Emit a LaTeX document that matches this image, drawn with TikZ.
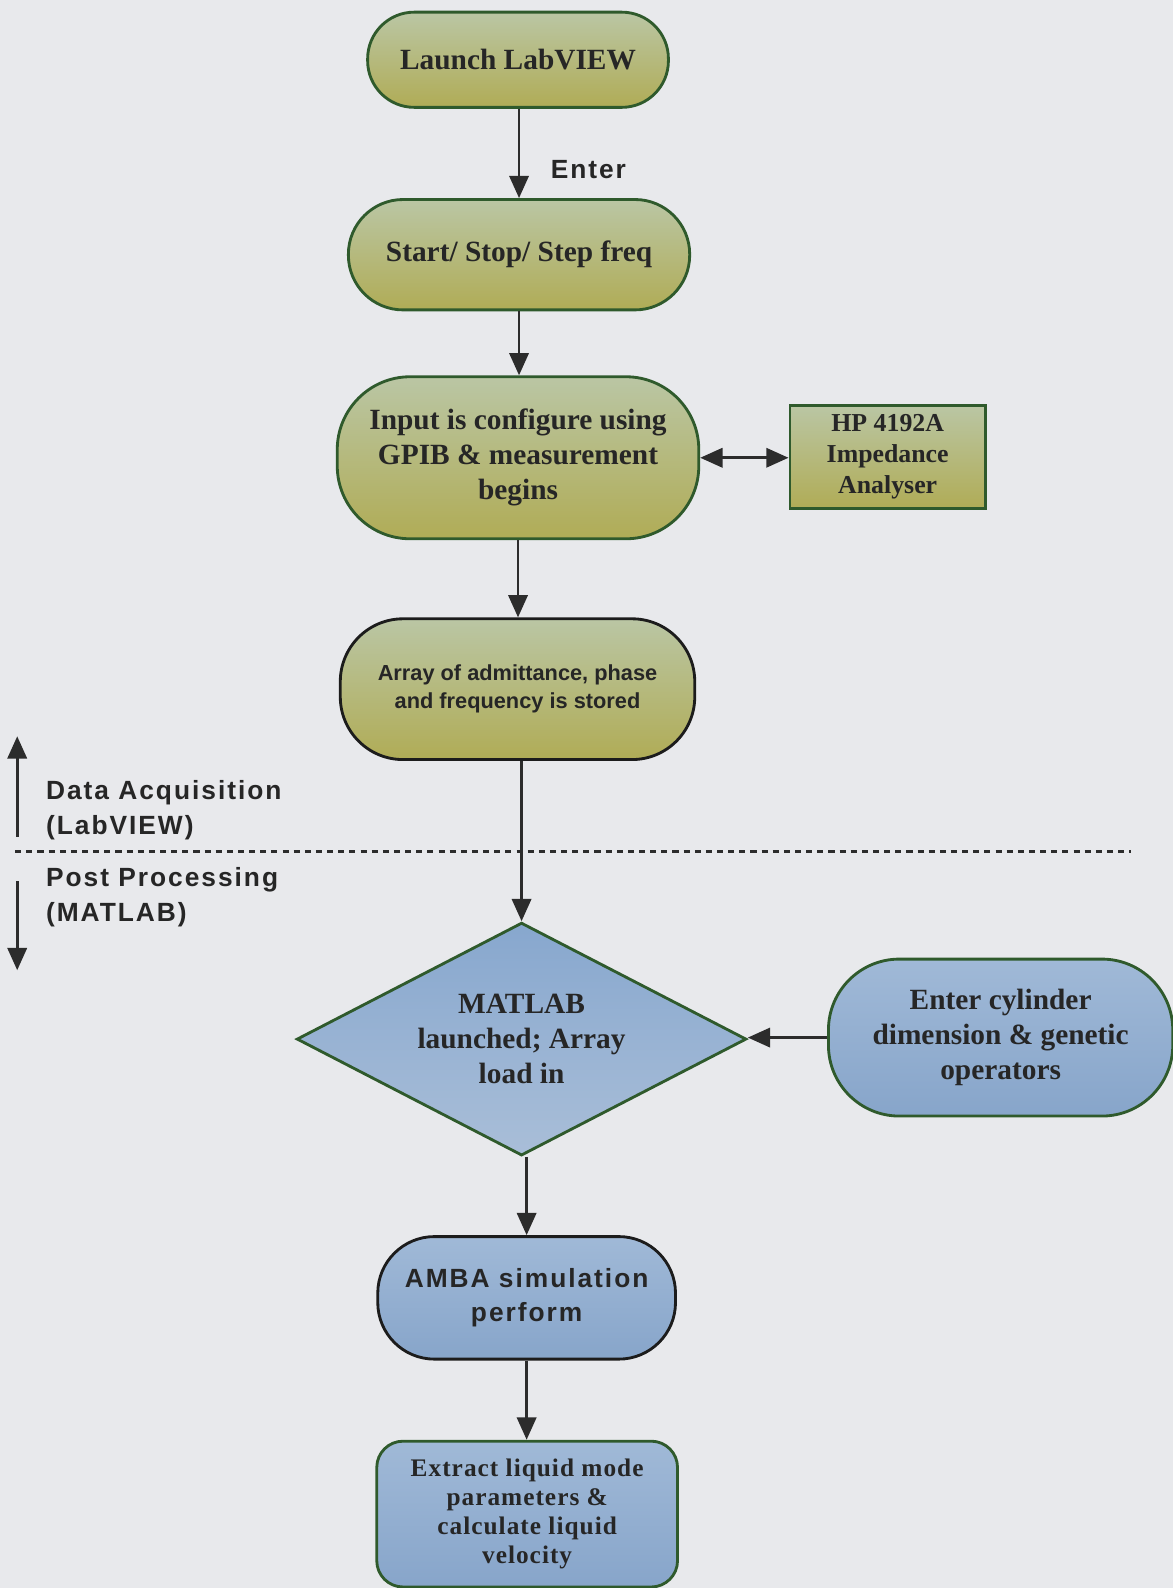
\documentclass[tikz,border=0pt]{standalone}
\usepackage{fontspec}
\setmainfont{Liberation Serif}
\setsansfont{Liberation Sans}
\usetikzlibrary{arrows.meta,shapes.geometric}

\definecolor{bgc}{HTML}{E8E9EC}
\definecolor{oliveTop}{HTML}{BAC6A4}
\definecolor{oliveBot}{HTML}{B0AC56}
\definecolor{blueTop}{HTML}{A0B9D7}
\definecolor{blueBot}{HTML}{87A5CA}
\definecolor{diaTop}{HTML}{87A7CE}
\definecolor{diaBot}{HTML}{A9BED8}
\definecolor{edgeGreen}{HTML}{2F5A2C}
\definecolor{edgeDark}{HTML}{1C1C1C}
\definecolor{ink}{HTML}{2C2C2C}
\definecolor{txt}{HTML}{262626}

\begin{document}
\begin{tikzpicture}[x=1pt,y=-1pt,
  box/.style={draw=edgeGreen, line width=2.8pt, align=center, inner sep=0pt, text=txt},
  olive/.style={box, top color=oliveTop, bottom color=oliveBot},
  bluebox/.style={box, top color=blueTop, bottom color=blueBot},
  serifA/.style={font=\fontsize{29}{34.5}\selectfont\bfseries},
  serifB/.style={font=\fontsize{25.5}{30.5}\selectfont\bfseries},
  serifC/.style={font=\fontsize{25}{28.5}\selectfont\bfseries\addfontfeature{LetterSpace=4}},
  sansA/.style={font=\fontsize{26}{33}\selectfont\sffamily\bfseries\addfontfeature{LetterSpace=7.5}, text=txt},
  sansB/.style={font=\fontsize{21.5}{28}\selectfont\sffamily\bfseries},
  flow/.style={draw=ink, line width=2.8pt, -{Triangle[length=22pt,width=19pt]}},
  both/.style={draw=ink, line width=2.8pt, {Triangle[length=22pt,width=19pt]}-{Triangle[length=22pt,width=19pt]}},
]
% page background
\fill[bgc] (0,0) rectangle (1158,1568);
\useasboundingbox (0,0) rectangle (1158,1568);

% data acquisition steps
\node[olive, serifA, minimum width=297, minimum height=94, rounded corners=46] (launch) at (511.5,59) {Launch LabVIEW};
\node[olive, serifA, minimum width=337, minimum height=109, rounded corners=54] (start) at (512.5,251.5) {Start/ Stop/ Step freq};
\node[olive, serifA, minimum width=357, minimum height=160, rounded corners=72] (input) at (511.5,452) {Input is configure using\\GPIB \& measurement\\begins};
\node[olive, serifB, minimum width=193, minimum height=102] (hp) at (876.5,451) {HP 4192A\\Impedance\\Analyser};
\node[olive, sansB, draw=edgeDark, minimum width=350, minimum height=139, rounded corners=62] (store) at (511,680.5) {Array of admittance, phase\\and frequency is stored};

% post processing steps
\node[box, diamond, serifA, aspect=1.93, minimum width=444, minimum height=230, top color=diaTop, bottom color=diaBot] (matlab) at (515,1026) {MATLAB\\launched; Array\\load in};
\node[bluebox, serifA, minimum width=340, minimum height=155, rounded corners=70] (cyl) at (988,1024.5) {Enter cylinder\\dimension \& genetic\\operators};
\node[bluebox, sansA, draw=edgeDark, minimum width=294, minimum height=121, rounded corners=56] (amba) at (520,1281.5) {AMBA simulation\\perform};
\node[bluebox, serifC, minimum width=297, minimum height=144, rounded corners=26] (extract) at (520.5,1495) {Extract liquid mode\\parameters \&\\calculate liquid\\velocity};

% connectors (kept vertical / horizontal)
\draw[flow] (start.north |- launch.south) -- (start.north);
\node[sansA] (enterlbl) at (581,167) {Enter};
\draw[flow] (start.south) -- (start.south |- input.north);
\draw[both] (input.east) -- (input.east -| hp.west);
\draw[flow] (input.south) -- (input.south |- store.north);
\draw[flow] (matlab.north |- store.south) -- (matlab.north);
\draw[flow] (cyl.west) -- (cyl.west -| matlab.east);
\draw[flow] (amba.north |- matlab.south) -- (amba.north);
\draw[flow] (amba.south) -- (amba.south |- extract.north);

% stage divider and labels
\coordinate (divL) at (15,841);
\coordinate (divR) at (1117,841);
\draw[ink, line width=2.6pt, dash pattern=on 6pt off 5pt] (divL) -- (divR);

\coordinate (upS) at (17,826);
\coordinate (upE) at (17,727);
\coordinate (dnS) at (17,870);
\coordinate (dnE) at (17,958);
\draw[flow] (upS) -- (upE);
\draw[flow] (dnS) -- (dnE);

\node[sansA, align=left, anchor=west, font=\fontsize{26}{34}\selectfont\sffamily\bfseries\addfontfeature{LetterSpace=7.5}] (daq) at (42,800) {Data Acquisition\\(LabVIEW)};
\node[sansA, align=left, anchor=west, font=\fontsize{26}{34}\selectfont\sffamily\bfseries\addfontfeature{LetterSpace=7.5}] (post) at (42,886) {Post Processing\\(MATLAB)};
\end{tikzpicture}
\end{document}
